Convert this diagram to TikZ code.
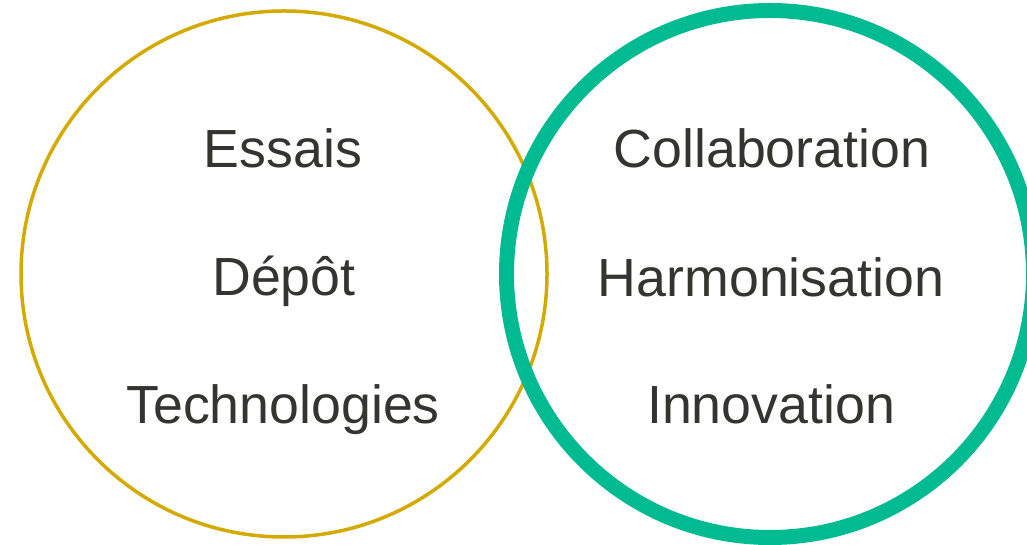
\documentclass[tikz,border=0pt]{standalone}
\usepackage{fontspec}
\setmainfont{Liberation Sans}
\usepackage{tikz}
\usepackage{xcolor}
\usetikzlibrary{positioning}

\definecolor{ringgold}{RGB}{212,170,0}
\definecolor{ringgreen}{RGB}{0,187,145}
\definecolor{wordgray}{RGB}{52,52,48}

\tikzset{
	word/.style={anchor=base, text=wordgray, inner sep=0pt,
		font=\fontsize{53.7}{62}\selectfont},
}

\begin{document}
	\begin{tikzpicture}[x=1pt,y=1pt]
		\useasboundingbox (0,0) rectangle (1027,545);
		\clip (0,0) rectangle (1027,545);
		\begin{scope}
			\draw[draw = ringgold, line width = 3.5] (284,271) circle (263);
			\draw[draw = ringgreen, line width = 15] (770,271) circle (263.5);

			\node[word] (essais) at (283,377) {Essais};
			\node[word] (depot)  at (284,249) {Dépôt};
			\node[word] (techno) at (283,121) {Technologies};

			\node[word] (collab) at (772,377) {Collaboration};
			\node[word] (harmo)  at (771,248) {Harmonisation};
			\node[word] (innov)  at (771,121) {Innovation};
		\end{scope}
	\end{tikzpicture}
\end{document}
